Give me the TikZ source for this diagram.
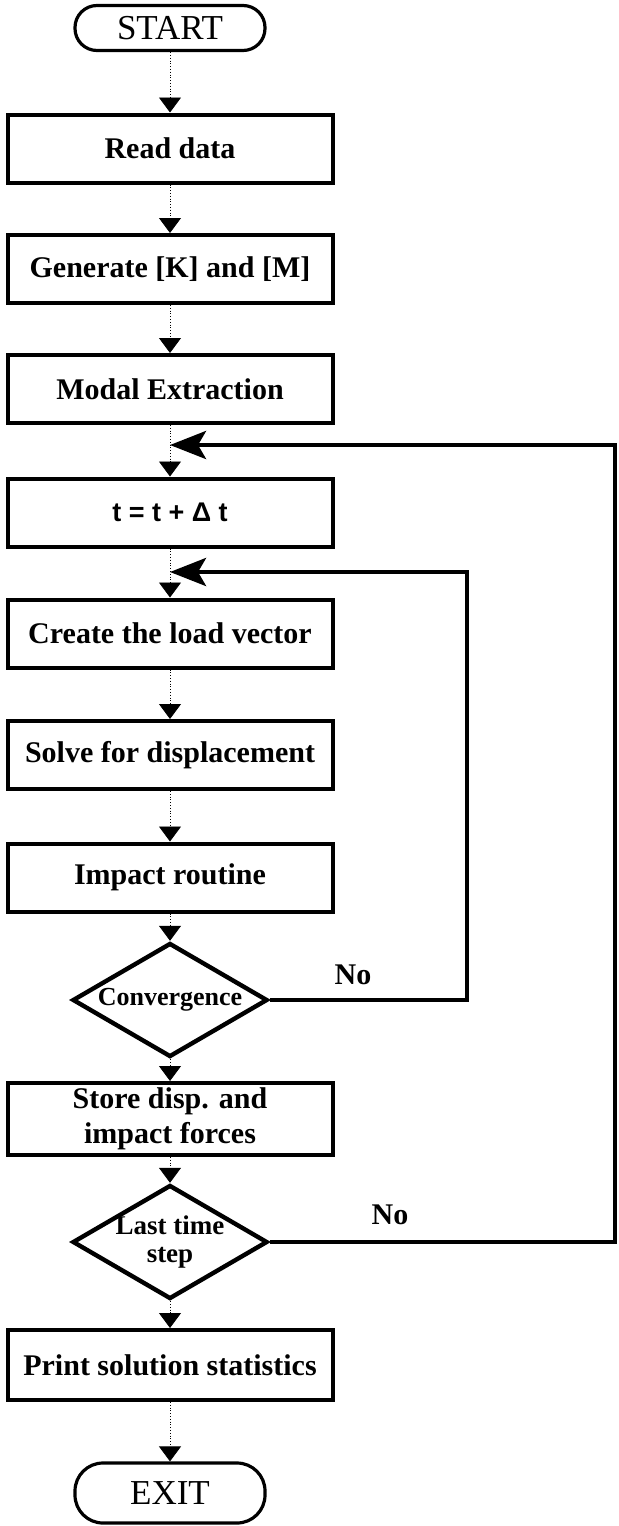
\documentclass[tikz,border=0pt]{standalone}
\usepackage{fontspec}
\setmainfont{Liberation Serif}
\newfontfamily\arialfont{Liberation Sans}
\usetikzlibrary{positioning, arrows.meta, shapes.geometric}

\tikzset{
  procbox/.style  = {draw, line width=2pt, minimum width=162.5pt, minimum height=34pt,
                     inner sep=1pt, align=center, font=\fontsize{15}{17.5}\selectfont\bfseries},
  termbox/.style  = {draw, line width=1.6pt, minimum width=95pt, inner sep=1pt,
                     font=\fontsize{17.5}{20}\selectfont},
  decision/.style = {diamond, draw, line width=2.2pt, minimum width=97.5pt, minimum height=57pt,
                     inner sep=-8pt, align=center},
  flow/.style     = {densely dotted, line width=0.4pt, -{Triangle[length=7.5pt,width=11pt]}},
  backline/.style = {line width=2.2pt, -{Stealth[length=18pt,width=14pt,inset=4pt]}},
  lbl/.style      = {font=\fontsize{15}{18}\selectfont\bfseries}
}

\begin{document}
\begin{tikzpicture}[x=0.5pt, y=-0.5pt]
  \useasboundingbox (0,0) rectangle (618,1526);

  % main column
  \node[termbox, minimum height=22.5pt, rounded corners=11pt] (start) at (170,28) {START};
  \node[procbox] (read)   at (170,148.5) {Read data};
  \node[procbox] (gen)    at (170,269)   {Generate [K] and [M]};
  \node[procbox] (modal)  at (170,389)   {Modal Extraction};
  \node[procbox, font=\arialfont\fontsize{13.5}{16}\selectfont\bfseries] (tstep) at (170,512.5) {t = t + Δ t};
  \node[procbox] (load)   at (170,633.5) {Create the load vector};
  \node[procbox] (solve)  at (170,755)   {Solve for displacement};
  \node[procbox] (impact) at (170,877.5) {Impact routine};
  \node[decision, font=\fontsize{13}{15}\selectfont\bfseries] (conv) at (170,1000) {Convergence};
  \node[procbox, minimum height=36pt] (store) at (170,1119) {Store disp. and\\impact forces};
  \node[decision, font=\fontsize{13.5}{16}\selectfont\bfseries] (last) at (170,1242) {\raisebox{-2pt}{Last time}\\step};
  \node[procbox, minimum height=35pt] (print) at (170,1365) {Print solution statistics};
  \node[termbox, minimum height=30pt, rounded corners=14pt] (exit) at (170,1493) {EXIT};

  % return points and rails
  \coordinate (back1) at (170,445);
  \coordinate (back2) at (170,572);
  \coordinate (rail1) at (615,445);
  \coordinate (rail2) at (467,572);

  % straight flow
  \draw[flow] (start) -- (read);
  \draw[flow] (read) -- (gen);
  \draw[flow] (gen) -- (modal);
  \draw[flow] (modal) -- (tstep);
  \draw[flow] (tstep) -- (load);
  \draw[flow] (load) -- (solve);
  \draw[flow] (solve) -- (impact);
  \draw[flow] (impact) -- (conv);
  \draw[flow] (conv) -- (store);
  \draw[flow] (store) -- (last);
  \draw[flow] (last) -- (print);
  \draw[flow] (print) -- (exit);

  % loops back
  \draw[backline] (conv.east) -| (rail2) -- (back2);
  \draw[backline] (last.east) -| (rail1) -- (back1);
  \node[lbl] (no1) at (353,975)  {No};
  \node[lbl] (no2) at (390,1215) {No};
\end{tikzpicture}
\end{document}
